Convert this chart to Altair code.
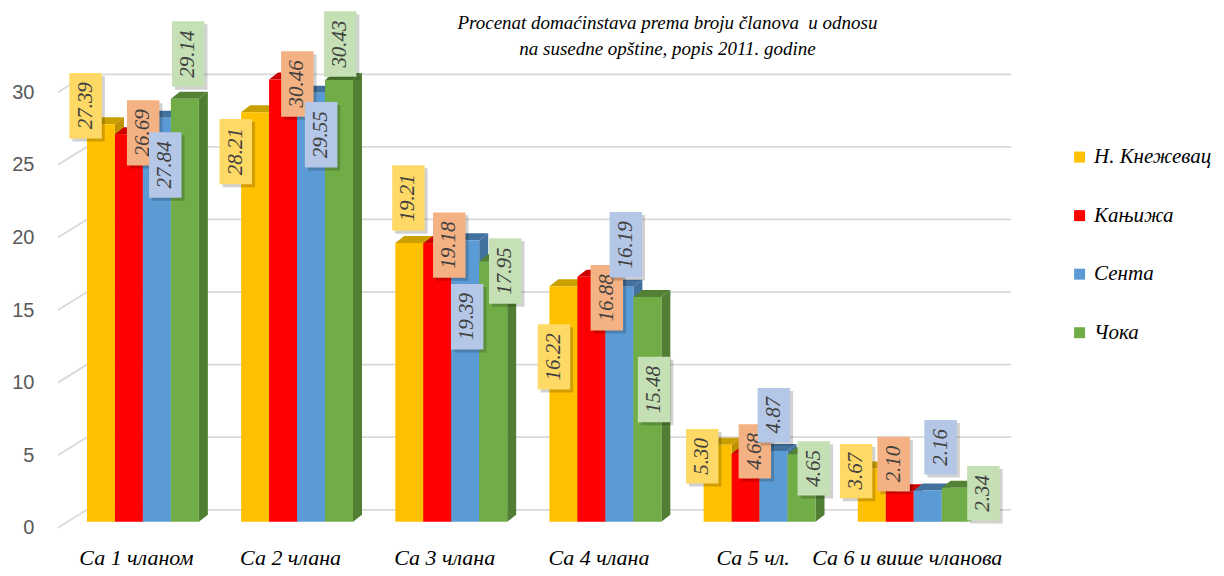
import json
import altair as alt
import pandas as pd

# ---------------- data ----------------
categories = ["Са 1 чланом", "Са 2 члана", "Са 3 члана", "Са 4 члана", "Са 5 чл.", "Са 6 и више чланова"]
series_names = ["Н. Кнежевац", "Кањижа", "Сента", "Чока"]

values_knezevac = [27.39, 28.21, 19.21, 16.22, 5.30, 3.67]
values_kanjiza = [26.69, 30.46, 19.18, 16.88, 4.68, 2.10]
values_senta = [27.84, 29.55, 19.39, 16.19, 4.87, 2.16]
values_coka = [29.14, 30.43, 17.95, 15.48, 4.65, 2.34]

y_ticks = [0, 5, 10, 15, 20, 25, 30]

# where Excel put each data label: centre height (value units) and sideways shift (bar widths)
label_height_knezevac = [28.66, 25.50, 22.31, 11.36, 4.51, 3.49]
label_height_kanjiza = [26.79, 30.16, 19.06, 15.43, 4.85, 3.98]
label_height_senta = [24.58, 26.66, 14.13, 19.08, 7.34, 5.13]
label_height_coka = [32.22, 32.91, 17.27, 9.11, 3.68, 1.96]

label_shift_knezevac = [-0.55, -0.69, -0.03, -0.34, -0.55, -0.56]
label_shift_kanjiza = [0.51, 0.51, 0.43, 0.55, 0.33, -0.22]
label_shift_senta = [0.30, 0.36, 0.07, 0.23, 0.01, 0.46]
label_shift_coka = [0.12, 0.04, 0.43, 0.24, 0.44, 0.99]

title_lines = ["Procenat domaćinstava prema broju članova \u00a0u odnosu",
               "na susedne opštine, popis 2011. godine"]

# ---------------- styling ----------------
series_values = [values_knezevac, values_kanjiza, values_senta, values_coka]
label_heights = [label_height_knezevac, label_height_kanjiza, label_height_senta, label_height_coka]
label_shifts = [label_shift_knezevac, label_shift_kanjiza, label_shift_senta, label_shift_coka]

bar_colors = ["#FFC000", "#FF0000", "#5B9BD5", "#70AD47"]
side_colors = ["#BF9000", "#C00000", "#41719C", "#507E32"]
top_colors = ["#C9A000", "#CC0000", "#41719C", "#548235"]
box_colors = ["#FFD966", "#F4B183", "#B4C7E7", "#C5E0B4"]

PX_X = 154.3          # pixels per category step
PX_Y = 14.53          # pixels per value unit
X0, X1 = -0.551, 5.632
Y0, Y1 = 0.0, 35.0
W = (X1 - X0) * PX_X
H = (Y1 - Y0) * PX_Y
BAR_W = 28 / PX_X
DEPTH_X = 9 / PX_X
DEPTH_Y = 7 / PX_Y
BOX_W = 32.5 / PX_X
SH_X = 3 / PX_X
SH_Y = 3 / PX_Y

SERIF = "Liberation Serif"
SANS = "Liberation Sans"

xs = alt.Scale(domain=[X0, X1], nice=False, zero=False)
ys = alt.Scale(domain=[Y0, Y1], nice=False, zero=False)

label_expr = json.dumps(categories, ensure_ascii=False) + "[round(datum.value)]"

x_axis = alt.Axis(values=list(range(len(categories))), labelExpr=label_expr, labelOffset=-7,
                  labelPadding=26, domain=False, ticks=False, grid=False, title=None,
                  labelFont=SERIF, labelFontStyle="italic", labelFontSize=22, labelColor="#000000",
                  labelOverlap=False, labelBound=False, labelFlush=False, labelLimit=400)
y_axis = alt.Axis(values=y_ticks, labelOffset=6, labelPadding=24, domain=False, ticks=False,
                  grid=False, title=None, labelFont=SANS, labelFontSize=20, labelColor="#595959")


def X(field):
    return alt.X(field, type="quantitative", scale=xs, axis=x_axis, stack=None)


def Y(field):
    return alt.Y(field, type="quantitative", scale=ys, axis=y_axis, stack=None)


# ---------------- tables ----------------
bars, sides, tops, labels = [], [], [], []
for j, s in enumerate(series_names):
    for i, c in enumerate(categories):
        v = series_values[j][i]
        xc = i + (j - 1.5) * BAR_W
        L, R = xc - BAR_W / 2, xc + BAR_W / 2
        key = f"{i}-{j}"
        bars.append(dict(series=s, sj=j, L=L, R=R, v=v, zero=0.0))
        sides.append(dict(sj=j, key=key, x=R, y=0.0, y2=v))
        sides.append(dict(sj=j, key=key, x=R + DEPTH_X, y=DEPTH_Y, y2=v + DEPTH_Y))
        tops.append(dict(sj=j, key=key, y=v, x=L, x2=R))
        tops.append(dict(sj=j, key=key, y=v + DEPTH_Y, x=L + DEPTH_X, x2=R + DEPTH_X))
        txt = f"{v:.2f}"
        half_h = (65.5 if len(txt) >= 5 else 54.5) / 2 / PX_Y
        lx = xc + label_shifts[j][i] * BAR_W
        ly = label_heights[j][i]
        labels.append(dict(sj=j, txt=txt, lx=lx, ly=ly,
                           bx0=lx - BOX_W / 2, bx1=lx + BOX_W / 2,
                           by0=ly - half_h, by1=ly + half_h,
                           sx0=lx - BOX_W / 2 + SH_X, sx1=lx + BOX_W / 2 + SH_X,
                           sy0=ly - half_h - SH_Y, sy1=ly + half_h - SH_Y))

bars_df = pd.DataFrame(bars)
sides_df = pd.DataFrame(sides)
tops_df = pd.DataFrame(tops)
labels_df = pd.DataFrame(labels)

grid_df = pd.DataFrame(dict(
    t=y_ticks,
    xf=[X0] * len(y_ticks),
    xb=[(87 - 143) / PX_X] * len(y_ticks),
    xe=[X1] * len(y_ticks),
    yf=[t - 6 / PX_Y for t in y_ticks],
    yb=[t + 12 / PX_Y for t in y_ticks],
))

grid_color = "#D9D9D9"
grid_back = alt.Chart(grid_df).mark_rule(color=grid_color, strokeWidth=1.8).encode(
    x=X("xb"), x2="xe", y=Y("yb"))
grid_diag = alt.Chart(grid_df).mark_rule(color=grid_color, strokeWidth=1.8).encode(
    x=X("xf"), x2="xb", y=Y("yf"), y2="yb")

layers = [grid_back, grid_diag]

color_scale = alt.Scale(domain=series_names, range=bar_colors)
legend = alt.Legend(orient="none", legendX=1012, legendY=133, title=None, padding=0,
                    symbolType="square", symbolSize=121, symbolStrokeWidth=0, rowPadding=36.6,
                    labelFont=SERIF, labelFontStyle="italic", labelFontSize=21, labelColor="#000000",
                    labelOffset=4, direction="vertical", labelLimit=300)

for j in range(len(series_names)):
    f = alt.datum.sj == j
    side = alt.Chart(sides_df).transform_filter(f).mark_area(
        orient="vertical", color=side_colors[j], opacity=1).encode(
        x=X("x"), y=Y("y"), y2="y2", detail="key:N")
    top = alt.Chart(tops_df).transform_filter(f).mark_area(
        orient="horizontal", color=top_colors[j], opacity=1).encode(
        y=Y("y"), x=X("x"), x2="x2", detail="key:N")
    front = alt.Chart(bars_df).transform_filter(f).mark_rect().encode(
        x=X("L"), x2="R", y=Y("zero"), y2="v",
        color=alt.Color("series:N", scale=color_scale, legend=legend))
    layers += [side, top, front]

for j in range(len(series_names)):
    f = alt.datum.sj == j
    shadow = alt.Chart(labels_df).transform_filter(f).mark_rect(color="#000000", opacity=0.18).encode(
        x=X("sx0"), x2="sx1", y=Y("sy0"), y2="sy1")
    box = alt.Chart(labels_df).transform_filter(f).mark_rect(color=box_colors[j]).encode(
        x=X("bx0"), x2="bx1", y=Y("by0"), y2="by1")
    text = alt.Chart(labels_df).transform_filter(f).mark_text(
        angle=270, align="center", baseline="middle", font=SERIF, fontStyle="italic",
        fontSize=21, color="#404040").encode(x=X("lx"), y=Y("ly"), text="txt:N")
    layers += [shadow, box, text]

chart = alt.layer(*layers).properties(
    width=W, height=H,
    background="white",
    autosize=alt.AutoSizeParams(type="none"),
    padding={"left": 50, "top": 5.45, "right": 205, "bottom": 54},
    title=alt.TitleParams(text=title_lines, anchor="middle", frame="group", dx=133, dy=48,
                          baseline="top", font=SERIF, fontStyle="italic", fontSize=19,
                          fontWeight="normal", color="#000000", lineHeight=26, offset=0),
).configure_view(stroke=None)

chart.save("out.html", embed_options={"renderer": "svg", "actions": False})
